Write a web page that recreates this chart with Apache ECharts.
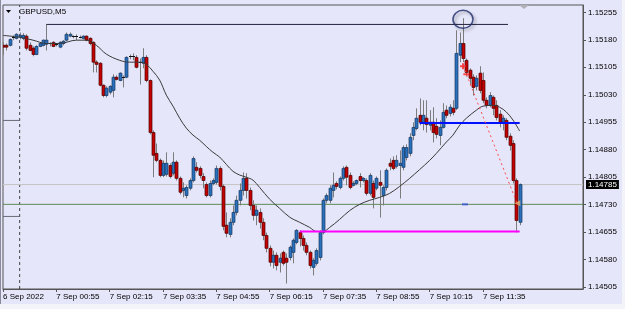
<!DOCTYPE html>
<html><head><meta charset="utf-8">
<script src="https://cdn.jsdelivr.net/npm/echarts@6/dist/echarts.min.js"></script>
<style>html,body{margin:0;padding:0;background:#e6e6fa;}#c{width:625px;height:309px;}</style>
</head><body><div id="c"></div>
<script>
// ---- data (prices) ----
const open = [1.15165,1.15165,1.15165,1.15184,1.15184,1.15187,1.15184,1.15190,1.15165,1.15157,
1.15140,1.15162,1.15165,1.15168,1.15170,1.15173,1.15165,1.15160,1.15170,1.15179,
1.15190,1.15190,1.15187,1.15187,1.15184,1.15190,1.15184,1.15173,1.15119,1.15116,
1.15056,1.15028,1.15037,1.15042,1.15078,1.15069,1.15078,1.15078,1.15132,1.15135,
1.15132,1.15119,1.15116,1.15132,1.15069,1.14927,1.14870,1.14851,1.14810,1.14813,
1.14837,1.14816,1.14846,1.14802,1.14769,1.14755,1.14775,1.14796,1.14832,1.14829,
1.14807,1.14785,1.14755,1.14788,1.14791,1.14829,1.14780,1.14674,1.14649,1.14682,
1.14709,1.14742,1.14769,1.14802,1.14769,1.14728,1.14701,1.14709,1.14682,1.14646,
1.14611,1.14573,1.14592,1.14573,1.14600,1.14584,1.14586,1.14600,1.14627,1.14654,
1.14638,1.14619,1.14600,1.14559,1.14570,1.14586,1.14654,1.14742,1.14742,1.14769,
1.14788,1.14777,1.14802,1.14832,1.14810,1.14783,1.14788,1.14807,1.14796,1.14796,
1.14761,1.14788,1.14775,1.14791,1.14755,1.14777,1.14843,1.14851,1.14835,1.14837,
1.14832,1.14859,1.14870,1.14919,1.14938,1.14974,1.14955,1.14966,1.14947,1.14955,
1.14944,1.14919,1.14941,1.14988,1.14979,1.14993,1.14993,1.15138,1.15170,1.15124,
1.15097,1.15078,1.15053,1.15089,1.15069,1.15015,1.15001,1.15023,1.15001,1.14977,
1.14955,1.14960,1.14917,1.14897,1.14796,1.14682];
const close = [1.15160,1.15160,1.15181,1.15187,1.15195,1.15192,1.15192,1.15157,1.15151,1.15140,
1.15162,1.15170,1.15179,1.15179,1.15168,1.15162,1.15168,1.15173,1.15176,1.15195,
1.15195,1.15190,1.15190,1.15187,1.15190,1.15179,1.15170,1.15119,1.15113,1.15056,
1.15028,1.15048,1.15053,1.15078,1.15072,1.15089,1.15075,1.15132,1.15135,1.15132,
1.15105,1.15116,1.15132,1.15069,1.14927,1.14865,1.14851,1.14810,1.14843,1.14843,
1.14807,1.14846,1.14802,1.14764,1.14775,1.14777,1.14796,1.14856,1.14824,1.14810,
1.14796,1.14755,1.14788,1.14796,1.14829,1.14780,1.14671,1.14652,1.14682,1.14709,
1.14742,1.14769,1.14802,1.14769,1.14728,1.14701,1.14715,1.14682,1.14646,1.14611,
1.14573,1.14592,1.14564,1.14584,1.14570,1.14573,1.14614,1.14633,1.14660,1.14638,
1.14619,1.14600,1.14564,1.14578,1.14605,1.14654,1.14742,1.14755,1.14775,1.14783,
1.14780,1.14802,1.14829,1.14805,1.14777,1.14788,1.14796,1.14796,1.14802,1.14761,
1.14810,1.14750,1.14802,1.14783,1.14777,1.14824,1.14835,1.14829,1.14851,1.14843,
1.14886,1.14886,1.14914,1.14941,1.14966,1.14955,1.14974,1.14949,1.14955,1.14927,
1.14922,1.14941,1.14982,1.14974,1.14996,1.14982,1.15143,1.15170,1.15129,1.15091,
1.15075,1.15050,1.15075,1.15042,1.15015,1.15001,1.15028,1.14993,1.14968,1.14955,
1.14966,1.14914,1.14892,1.14796,1.14687,1.14785];
const low = [1.15138,1.15151,1.15162,1.15179,1.15181,1.15181,1.15179,1.15151,1.15149,1.15135,
1.15138,1.15160,1.15162,1.15151,1.15162,1.15160,1.15162,1.15157,1.15165,1.15176,
1.15187,1.15184,1.15179,1.15184,1.15181,1.15176,1.15165,1.15091,1.15091,1.15053,
1.15023,1.15023,1.15031,1.15023,1.15069,1.15067,1.15050,1.15075,1.15127,1.15124,
1.15102,1.15058,1.15102,1.15064,1.14922,1.14805,1.14846,1.14805,1.14805,1.14807,
1.14802,1.14810,1.14796,1.14758,1.14750,1.14747,1.14769,1.14791,1.14818,1.14802,
1.14775,1.14750,1.14750,1.14783,1.14785,1.14769,1.14660,1.14641,1.14641,1.14674,
1.14701,1.14728,1.14755,1.14747,1.14715,1.14687,1.14674,1.14665,1.14633,1.14600,
1.14562,1.14556,1.14551,1.14545,1.14564,1.14515,1.14578,1.14570,1.14622,1.14616,
1.14605,1.14592,1.14556,1.14537,1.14564,1.14578,1.14649,1.14734,1.14734,1.14750,
1.14772,1.14772,1.14796,1.14783,1.14772,1.14780,1.14783,1.14777,1.14791,1.14755,
1.14755,1.14720,1.14769,1.14695,1.14728,1.14769,1.14824,1.14824,1.14829,1.14747,
1.14824,1.14851,1.14862,1.14906,1.14933,1.14947,1.14933,1.14927,1.14933,1.14900,
1.14911,1.14892,1.14938,1.14966,1.14971,1.14974,1.14988,1.15119,1.15119,1.15080,
1.15056,1.15028,1.15042,1.15034,1.15007,1.14993,1.14996,1.14974,1.14960,1.14941,
1.14933,1.14906,1.14878,1.14788,1.14654,1.14674];
const high = [1.15173,1.15170,1.15184,1.15192,1.15198,1.15200,1.15198,1.15195,1.15173,1.15162,
1.15165,1.15173,1.15181,1.15222,1.15173,1.15176,1.15170,1.15176,1.15179,1.15200,
1.15200,1.15192,1.15195,1.15192,1.15192,1.15192,1.15187,1.15176,1.15124,1.15119,
1.15058,1.15053,1.15056,1.15086,1.15083,1.15091,1.15083,1.15135,1.15140,1.15143,
1.15138,1.15129,1.15157,1.15138,1.15072,1.14933,1.14897,1.14856,1.14851,1.14873,
1.14843,1.14873,1.14851,1.14807,1.14791,1.14783,1.14802,1.14862,1.14846,1.14835,
1.14816,1.14791,1.14796,1.14802,1.14837,1.14835,1.14785,1.14709,1.14693,1.14728,
1.14755,1.14788,1.14818,1.14816,1.14777,1.14742,1.14728,1.14720,1.14693,1.14654,
1.14619,1.14605,1.14600,1.14597,1.14605,1.14597,1.14619,1.14638,1.14663,1.14660,
1.14646,1.14627,1.14605,1.14584,1.14611,1.14660,1.14747,1.14761,1.14783,1.14818,
1.14794,1.14807,1.14835,1.14837,1.14818,1.14794,1.14799,1.14816,1.14805,1.14802,
1.14816,1.14796,1.14807,1.14824,1.14783,1.14829,1.14856,1.14862,1.14865,1.14878,
1.14892,1.14895,1.14925,1.14955,1.14993,1.15020,1.15015,1.15015,1.14988,1.14996,
1.14966,1.14960,1.15007,1.15001,1.15004,1.15015,1.15206,1.15200,1.15239,1.15129,
1.15102,1.15086,1.15083,1.15108,1.15091,1.15023,1.15037,1.15028,1.15015,1.14988,
1.14974,1.14966,1.14925,1.14906,1.14802,1.14788];
// moving average read at bar indices
const maIdx = [0,5,9,13,17,22,25,28,31,35,38,41,43,45,47,49,51,53,55,57,59,61,63,65,67,69,71,73,75,77,80,83,86,89,92,94,96,98,101,104,107,110,113,116,119,122,125,128,130,133,135,137,139,142,144,147,149,151,153,155];
const maVal = [1.15192,1.15187,1.15179,1.15170,1.15170,1.15179,1.15179,1.15165,1.15141,1.15124,1.15119,1.15119,1.15113,1.15094,1.15070,1.15029,1.14999,1.14966,1.14939,1.14920,1.14906,1.14889,1.14873,1.14860,1.14840,1.14821,1.14811,1.14805,1.14797,1.14777,1.14745,1.14720,1.14696,1.14682,1.14668,1.14657,1.14657,1.14668,1.14690,1.14714,1.14731,1.14742,1.14750,1.14761,1.14780,1.14802,1.14826,1.14851,1.14870,1.14901,1.14920,1.14947,1.14966,1.14988,1.14999,1.15001,1.14996,1.14983,1.14961,1.14931];
const tickIdx = [0,16,32,48,64,80,96,112,128,144];
const tickLabels = ['6 Sep 2022','7 Sep 00:55','7 Sep 02:15','7 Sep 03:35','7 Sep 04:55','7 Sep 06:15','7 Sep 07:35','7 Sep 08:55','7 Sep 10:15','7 Sep 11:35'];
const priceTicks = [1.14505,1.14580,1.14655,1.14730,1.14805,1.14880,1.14955,1.15030,1.15105,1.15180,1.15255];
const bidPrice = 1.14785;
const greenLevel = 1.14731;
const topLevel = 1.15222, topFrom = 13, topTo = 151.5;
const blueLevel = 1.14953, blueFrom = 125, blueTo = 155;
const magentaLevel = 1.14657, magentaFrom = 89, magentaTo = 155;
const leftStubs = [1.14960, 1.14698];
const trendLine = [[138, 1.15110], [154.2, 1.14734]];
const daySeparator = 5;
const circleAt = [138, 1.15236];

const FONT = 'Liberation Sans';
const X_MIN = 0, X_MAX = 174, Y_MIN = 1.14500, Y_MAX = 1.15275;
const candles = open.map((o, i) => [i, o, close[i], low[i], high[i]]);

const stubSeries = leftStubs.map(p => ({type: 'line', data: [[X_MIN, p], [daySeparator, p]], showSymbol: false, z: 2, silent: true,
  lineStyle: {color: '#6a6a78', width: 1}}));

const chart = echarts.init(document.getElementById('c'), null, {renderer: 'canvas'});
chart.setOption({
  animation: false,
  backgroundColor: '#e6e6fa',
  title: {text: 'GBPUSD,M5', left: 14, top: 3, textStyle: {fontFamily: FONT, fontSize: 8, fontWeight: 'normal', color: '#000'}},
  grid: {left: 3, right: 42, top: 5, bottom: 20, show: true, borderColor: '#555', borderWidth: 1, backgroundColor: 'transparent'},
  xAxis: {
    type: 'value', min: X_MIN, max: X_MAX,
    splitLine: {show: false},
    axisLine: {show: true, onZero: false, lineStyle: {color: '#555'}},
    axisTick: {show: true, length: 3, customValues: tickIdx, lineStyle: {color: '#555'}},
    axisLabel: {customValues: tickIdx, align: 'left', margin: 4, fontFamily: FONT, fontSize: 8, color: '#000',
      formatter: v => tickLabels[tickIdx.indexOf(v)] || ''}
  },
  yAxis: {
    type: 'value', position: 'right', min: Y_MIN, max: Y_MAX,
    splitLine: {show: false},
    axisLine: {show: true, onZero: false, lineStyle: {color: '#555'}},
    axisTick: {show: true, length: 3, customValues: priceTicks, lineStyle: {color: '#555'}},
    axisLabel: {customValues: priceTicks, margin: 5, fontFamily: FONT, fontSize: 8, color: '#000',
      formatter: v => v.toFixed(5)}
  },
  series: [
    {type: 'line', data: [[daySeparator, Y_MIN], [daySeparator, Y_MAX]], showSymbol: false, z: 2, silent: true,
      lineStyle: {color: '#444', type: [3, 3], width: 1}},
    ...stubSeries,
    {type: 'line', data: [[X_MIN, greenLevel], [X_MAX, greenLevel]], showSymbol: false, z: 2, silent: true,
      lineStyle: {color: '#5f8c55', width: 1}},
    {type: 'line', data: [[X_MIN, bidPrice], [X_MAX, bidPrice]], showSymbol: false, z: 2, silent: true,
      lineStyle: {color: '#c4c4c4', width: 1},
      endLabel: {show: true, distance: 3, formatter: () => bidPrice.toFixed(5), backgroundColor: '#000', color: '#fff',
        fontFamily: FONT, fontSize: 8, padding: [1, 2, 0, 2]}},
    {type: 'custom', data: candles, clip: true, z: 3,
      encode: {x: 0, y: [1, 2, 3, 4]},
      renderItem: function (params, api) {
        const i = api.value(0), o = api.value(1), c = api.value(2), l = api.value(3), h = api.value(4);
        const pO = api.coord([i, o]), pC = api.coord([i, c]), pL = api.coord([i, l]), pH = api.coord([i, h]);
        const x = Math.round(pO[0]) + 0.5;
        const top = Math.min(pO[1], pC[1]), bot = Math.max(pO[1], pC[1]);
        const kids = [{type: 'line', shape: {x1: x, y1: pH[1], x2: x, y2: pL[1]}, style: {stroke: '#7c7c7c', lineWidth: 1}}];
        if (bot - top < 1.2) {
          kids.push({type: 'line', shape: {x1: x - 1.5, y1: Math.round(top) + 0.5, x2: x + 1.5, y2: Math.round(top) + 0.5}, style: {stroke: '#111', lineWidth: 1}});
        } else {
          const bull = c > o;
          kids.push({type: 'rect', shape: {x: x - 1.5, y: top, width: 3, height: bot - top},
            style: {fill: bull ? '#2a70bd' : '#c40000', stroke: bull ? '#17365c' : '#4a0000', lineWidth: 0.7}});
        }
        return {type: 'group', children: kids};
      }},
    {type: 'line', data: maIdx.map((v, k) => [v, maVal[k]]), smooth: 0.35, showSymbol: false, z: 4,
      lineStyle: {color: '#3a3a3a', width: 1}},
    {type: 'line', data: [[topFrom, topLevel], [topTo, topLevel]], showSymbol: false, z: 4, lineStyle: {color: '#23233e', width: 1}},
    {type: 'line', data: [[blueFrom, blueLevel], [blueTo, blueLevel]], showSymbol: false, z: 4, lineStyle: {color: '#0010ff', width: 2}},
    {type: 'line', data: [[magentaFrom, magentaLevel], [magentaTo, magentaLevel]], showSymbol: false, z: 4, lineStyle: {color: '#ff00ff', width: 2}},
    {type: 'line', data: trendLine, showSymbol: false, z: 4, lineStyle: {color: '#ff4a4a', width: 1, type: [2, 3]}},
    {type: 'scatter', data: [circleAt], symbol: 'circle', symbolSize: [20, 18], z: 5,
      itemStyle: {color: 'rgba(0,0,0,0)', borderColor: '#1d2a66', borderWidth: 1.5, shadowBlur: 3, shadowColor: 'rgba(0,0,0,0.35)', shadowOffsetX: 2, shadowOffsetY: 2}},
    {type: 'scatter', data: [[138, 1.15108]], symbol: 'path://M2,0H4V2H6V4H4V6H2V4H0V2H2Z', symbolSize: 6, z: 5, itemStyle: {color: '#ff2020'}},
    {type: 'scatter', data: [[139, 1.15086]], symbol: 'rect', symbolSize: [6, 2], z: 5, itemStyle: {color: '#ff2020'}},
    {type: 'scatter', data: [[138.6, greenLevel]], symbol: 'rect', symbolSize: [6, 2], z: 5, itemStyle: {color: '#3050d0'}},
    {type: 'scatter', data: [[154.3, 1.14734]], symbol: 'triangle', symbolRotate: 90, symbolSize: [6, 6], z: 5, itemStyle: {color: '#e2b070'}}
  ],
  graphic: [
    {type: 'polygon', shape: {points: [[6, 10], [11, 10], [8.5, 13]]}, style: {fill: '#000'}},
    {type: 'polygon', shape: {points: [[519, 5], [529, 5], [524, 9]]}, style: {fill: '#b0b0b8'}},
    {type: 'rect', shape: {x: 622, y: 0, width: 3, height: 309}, style: {fill: '#f3f3fa'}},
    {type: 'rect', shape: {x: 0, y: 304, width: 625, height: 5}, style: {fill: '#f3f3fa'}},
    {type: 'line', shape: {x1: 0.5, y1: 0, x2: 0.5, y2: 304}, style: {stroke: '#8a8a9a', lineWidth: 1}}
  ]
});
</script></body></html>
